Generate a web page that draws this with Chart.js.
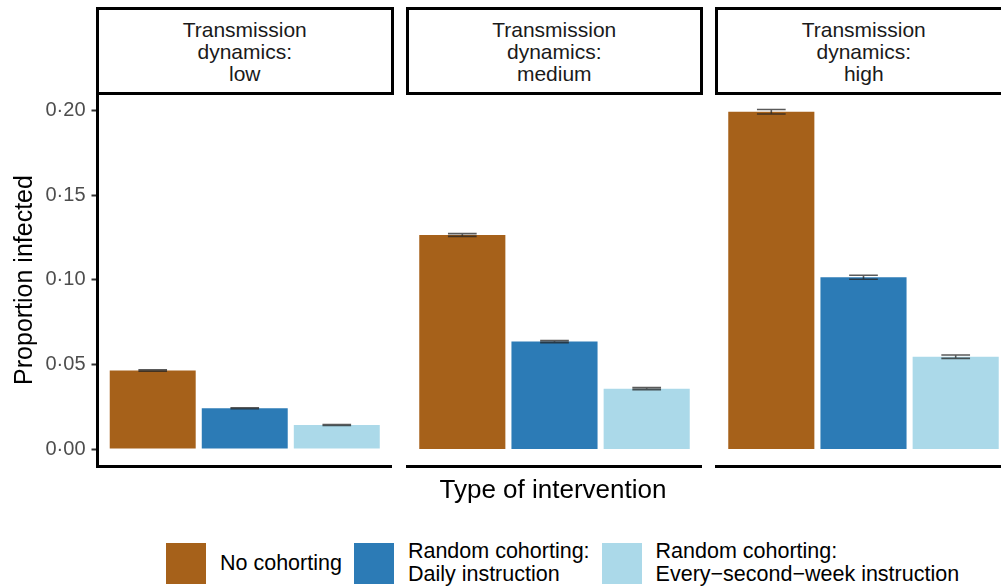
<!DOCTYPE html>
<html>
<head>
<meta charset="utf-8">
<script src="https://cdn.jsdelivr.net/npm/chart.js@4/dist/chart.umd.min.js"></script>
<style>
  html, body { margin: 0; padding: 0; background: #fff; }
  body { width: 1001px; height: 587px; overflow: hidden; position: relative;
         font-family: "Liberation Sans", Arial, sans-serif; }
  canvas { position: absolute; }
  .strip { position: absolute; top: 7px; height: 88px; box-sizing: border-box;
           border: 3px solid #000; background: #fff; display: flex;
           align-items: center; justify-content: center; text-align: center;
           font-size: 21px; line-height: 22px; color: #1a1a1a; padding-top: 1px; }
  #xtitle { position: absolute; top: 474px; left: 97px; width: 912px; text-align: center;
            font-size: 26px; line-height: 30px; color: #000; }
  #legend { position: absolute; top: 540px; left: 166px; display: flex; align-items: center; }
  .item { display: flex; align-items: center; margin-right: 12px; }
  .key { width: 40px; height: 41px; margin-right: 14px; }
  .lab { font-size: 21.5px; line-height: 23px; color: #000; white-space: nowrap; }
</style>
</head>
<body>
<div id="strips"></div>
<canvas id="p0" width="392" height="412" style="left:0px;top:74px"></canvas>
<canvas id="p1" width="302" height="412" style="left:400px;top:74px"></canvas>
<canvas id="p2" width="302" height="412" style="left:709px;top:74px"></canvas>
<div id="xtitle">Type of intervention</div>
<div id="legend"></div>
<script>
// Interventions (bar categories) and their fill colours
const categories = ['No cohorting', 'Random cohorting:\nDaily instruction', 'Random cohorting:\nEvery\u2212second\u2212week instruction'];
const colors = ['#a6611a', '#2c7bb6', '#abd9e9'];

// Facet labels
const panelLabels = ['Transmission\ndynamics:\nlow', 'Transmission\ndynamics:\nmedium', 'Transmission\ndynamics:\nhigh'];

// Mean proportion infected per intervention
const lowValues = [0.0464, 0.0241, 0.0142];
const mediumValues = [0.1265, 0.0635, 0.0357];
const highValues = [0.1993, 0.1015, 0.0546];

// Half-width of the confidence interval
const lowCI = [0.0004, 0.0003, 0.0003];
const mediumCI = [0.0008, 0.0006, 0.0006];
const highCI = [0.0013, 0.0012, 0.0010];

// y axis ticks
const yTicks = [0, 0.05, 0.10, 0.15, 0.20];
// bar positions on the x scale
const xPositions = [1, 2, 3];

Chart.defaults.font.family = '"Liberation Sans", Arial, sans-serif';

const panelValues = [lowValues, mediumValues, highValues];
const panelCI = [lowCI, mediumCI, highCI];

// strips
const stripLefts = [96, 405.5, 715];
const strips = document.getElementById('strips');
panelLabels.forEach((t, i) => {
  const d = document.createElement('div');
  d.className = 'strip';
  d.style.left = stripLefts[i] + 'px';
  d.style.width = '297.5px';
  d.innerHTML = t.split('\n').join('<br>');
  strips.appendChild(d);
});

// legend
const legend = document.getElementById('legend');
categories.forEach((c, i) => {
  const it = document.createElement('div');
  it.className = 'item';
  const k = document.createElement('div');
  k.className = 'key';
  k.style.background = colors[i];
  const l = document.createElement('div');
  l.className = 'lab';
  l.innerHTML = c.split('\n').join('<br>');
  it.appendChild(k); it.appendChild(l);
  legend.appendChild(it);
});

// error bars drawn on top of the bars
const errorBars = {
  id: 'errorBars',
  afterDatasetsDraw(chart, args, opts) {
    const ctx = chart.ctx;
    const y = chart.scales.y;
    const meta = chart.getDatasetMeta(0);
    const vals = opts.values, ci = opts.ci;
    ctx.save();
    ctx.strokeStyle = 'rgba(35,35,35,0.75)';
    ctx.lineWidth = 1.6;
    meta.data.forEach((bar, i) => {
      const half = bar.width / 6;
      const yl = y.getPixelForValue(vals[i] - ci[i]);
      const yh = y.getPixelForValue(vals[i] + ci[i]);
      ctx.beginPath();
      ctx.moveTo(bar.x - half, yh); ctx.lineTo(bar.x + half, yh);
      ctx.moveTo(bar.x - half, yl); ctx.lineTo(bar.x + half, yl);
      ctx.moveTo(bar.x, yh); ctx.lineTo(bar.x, yl);
      ctx.stroke();
    });
    ctx.restore();
  }
};

function makePanel(idx) {
  const vals = panelValues[idx];
  const first = idx === 0;
  return new Chart(document.getElementById('p' + idx), {
    type: 'bar',
    data: {
      datasets: [{
        data: vals.map((v, i) => ({ x: xPositions[i], y: v })),
        backgroundColor: colors,
        borderWidth: 0,
        barPercentage: 0.934,
        categoryPercentage: 1
      }]
    },
    plugins: [errorBars],
    options: {
      responsive: false,
      animation: false,
      devicePixelRatio: 1,
      layout: { padding: { top: 20, bottom: 20, left: first ? 0 : 7, right: 0 } },
      plugins: {
        legend: { display: false },
        tooltip: { enabled: false },
        errorBars: { values: vals, ci: panelCI[idx] }
      },
      scales: {
        x: {
          type: 'linear', min: 0.4, max: 3.6, offset: false,
          afterBuildTicks: s => { s.ticks = xPositions.map(v => ({ value: v })); },
          ticks: { display: false },
          grid: { display: false },
          border: { display: true, color: '#000', width: 3 },
          afterFit: s => { s.height = 0; }
        },
        y: {
          display: first,
          min: -0.01, max: 0.2098,
          afterBuildTicks: s => { s.ticks = yTicks.map(v => ({ value: v })); },
          afterFit: s => { s.width = first ? 97.5 : 0; },
          ticks: {
            color: '#4d4d4d', padding: 6,
            font: { size: 20 },
            callback: v => v.toFixed(2).replace('.', '\u00b7')
          },
          grid: { drawOnChartArea: false, drawTicks: true, tickLength: 6, tickColor: '#333', tickWidth: 2 },
          border: { display: true, color: '#000', width: 3 },
          title: { display: true, text: 'Proportion infected', color: '#000',
                   font: { size: 25 }, padding: { top: 10, bottom: 0 } }
        }
      }
    }
  });
}

[0, 1, 2].forEach(makePanel);
</script>
</body>
</html>
